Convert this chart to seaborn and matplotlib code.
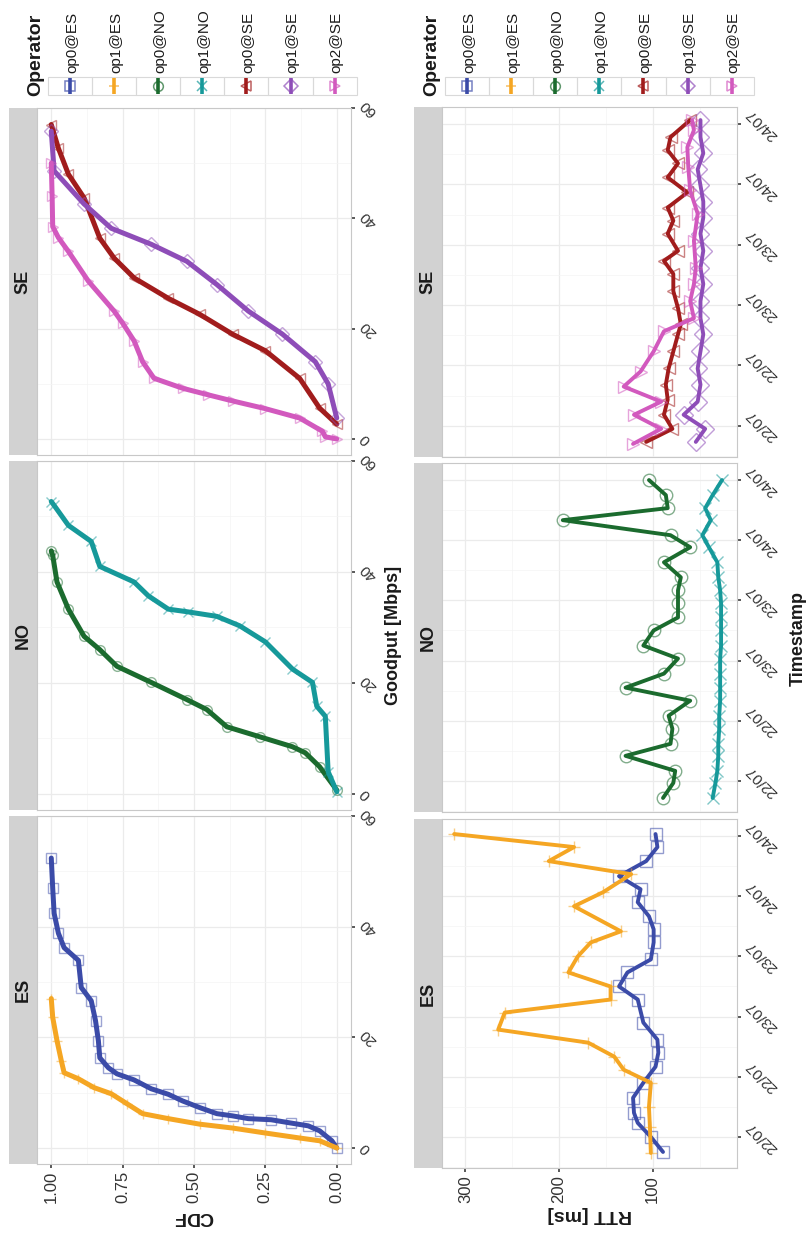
import numpy as np
import pandas as pd
import matplotlib
matplotlib.use("Agg")
import matplotlib.pyplot as plt
import matplotlib.dates as mdates
from matplotlib.patches import Rectangle
import seaborn as sns

# ---------------- data ----------------
regions = ["ES", "NO", "SE"]
operators = ["op0@ES", "op1@ES", "op0@NO", "op1@NO", "op0@SE", "op1@SE", "op2@SE"]
op_colors = ["#3B4BA8", "#F5A623", "#1B6B2E", "#16999A", "#A11C1C", "#8E4DB8", "#D259BE"]
# markers as seen in the (rotated) picture
op_markers = ["s", "+", "o", "x", "<", "D", ">"]

# CDF of goodput: (cdf level, goodput in Mbps)
cdf_op0_es = [0.00, 0.017, 0.06, 0.10, 0.16, 0.23, 0.31, 0.365, 0.42, 0.48, 0.54, 0.59, 0.65, 0.71,
              0.77, 0.80, 0.83, 0.835, 0.845, 0.86, 0.895, 0.905, 0.955, 0.975, 0.99, 0.995, 1.00]
gp_op0_es = [0.0, 1.3, 3.1, 4.0, 4.5, 5.1, 5.3, 5.8, 6.2, 7.3, 8.5, 9.7, 10.7, 12.3,
             13.4, 14.5, 16.3, 19.4, 23.0, 26.6, 29.0, 33.9, 36.2, 38.8, 42.4, 47.0, 52.4]
cdf_op1_es = [0.00, 0.06, 0.13, 0.25, 0.365, 0.48, 0.59, 0.68, 0.735, 0.79, 0.85, 0.905, 0.955,
              0.965, 0.98, 0.995, 1.00]
gp_op1_es = [0.0, 1.3, 1.8, 2.7, 3.6, 4.3, 5.3, 6.2, 8.0, 9.8, 10.9, 12.5, 13.6,
             15.8, 19.4, 23.6, 27.0]
cdf_op0_no = [0.00, 0.06, 0.11, 0.155, 0.27, 0.385, 0.455, 0.525, 0.65, 0.77, 0.83, 0.885, 0.94,
              0.98, 0.995, 1.00]
gp_op0_no = [0.7, 4.9, 7.4, 8.5, 10.3, 12.1, 15.2, 17.0, 20.1, 23.0, 26.0, 28.4, 33.3,
             38.2, 43.0, 43.8]
cdf_op1_no = [0.00, 0.03, 0.04, 0.07, 0.085, 0.155, 0.25, 0.34, 0.42, 0.52, 0.59, 0.66, 0.71,
              0.83, 0.86, 0.94, 0.99, 1.00]
gp_op1_no = [0.4, 4.0, 14.0, 15.8, 20.1, 22.5, 27.4, 30.3, 32.0, 32.8, 33.3, 35.7, 38.2,
             41.0, 45.5, 48.4, 52.0, 52.7]
cdf_op0_se = [0.00, 0.06, 0.13, 0.25, 0.365, 0.48, 0.59, 0.71, 0.78, 0.83, 0.885, 0.94, 0.975, 1.00]
gp_op0_se = [2.7, 5.6, 11.0, 16.0, 19.0, 22.6, 25.5, 29.2, 32.8, 36.4, 43.7, 48.0, 52.7, 57.0]
cdf_op1_se = [0.00, 0.03, 0.075, 0.19, 0.31, 0.42, 0.525, 0.65, 0.79, 0.885, 0.99, 1.00]
gp_op1_se = [3.8, 10.0, 14.0, 19.0, 23.2, 28.0, 32.2, 35.3, 38.2, 42.6, 48.6, 55.8]
cdf_op2_se = [0.00, 0.04, 0.05, 0.13, 0.25, 0.365, 0.45, 0.54, 0.64, 0.68, 0.71, 0.75, 0.78,
              0.87, 0.94, 0.975, 0.995, 0.997, 1.00]
gp_op2_se = [0.0, 0.4, 1.4, 3.8, 5.5, 6.9, 8.0, 9.2, 11.0, 14.0, 17.8, 21.0, 23.2,
             28.6, 34.0, 36.5, 38.5, 44.0, 50.0]

# RTT over time: hours after 22/07 00:00, RTT in ms
hours_op0_es = [-3.0, 0.0, 2.8, 4.8, 7.8, 10.8, 14.0, 16.8, 19.4, 22.8, 27.4, 30.0, 32.8, 35.4,
                38.8, 41.4, 44.0, 46.8, 49.4, 52.0, 55.0, 57.8, 60.4]
rtt_op0_es = [89, 102, 116, 120, 121, 110, 97, 94, 95, 110, 116, 136, 127, 102,
              99, 99, 104, 116, 113, 136, 107, 95, 97]
hours_op1_es = [-3.2, 2.0, 6.0, 10.8, 13.4, 16.0, 18.8, 21.4, 24.8, 27.4, 30.0, 32.8, 36.0, 38.8,
                41.0, 46.0, 48.8, 52.4, 55.0, 57.8, 60.4]
rtt_op1_es = [102, 103, 104, 102, 131, 141, 169, 265, 258, 145, 145, 190, 180, 166,
              134, 184, 153, 123, 211, 184, 312]
hours_op0_no = [-3.4, -0.4, 2.0, 5.0, 7.4, 10.4, 13.0, 16.0, 18.6, 21.4, 24.4, 27.0, 30.0, 32.6,
                35.4, 38.0, 40.6, 43.6, 46.6, 49.0, 52.0, 54.4, 57.0, 60.0]
rtt_op0_no = [89, 78, 76, 129, 81, 79, 83, 60, 129, 88, 73, 110, 99, 73,
              73, 73, 70, 88, 60, 81, 196, 84, 86, 104]
hours_op1_no = [-3.4, -0.4, 2.0, 5.0, 7.4, 10.4, 13.0, 16.0, 18.6, 21.4, 24.4, 27.0, 30.0, 32.6,
                35.4, 38.0, 40.6, 43.6, 46.6, 49.0, 52.0, 54.4, 57.0, 60.0]
rtt_op1_no = [36, 33, 31, 30, 30, 29, 29, 28, 28, 28, 28, 27, 27, 27,
              27, 28, 30, 31, 40, 47, 38, 44, 36, 26]
hours_op0_se = [-3.2, -0.6, 2.2, 5.2, 8.2, 11.4, 14.8, 18.2, 20.2, 23.4, 26.8, 30.2, 32.8, 34.8,
                38.2, 40.8, 43.4, 46.4, 49.4, 52.2, 54.8, 57.4, 60.8]
rtt_op0_se = [107, 79, 88, 84, 86, 83, 78, 73, 70, 73, 78, 78, 88, 73,
              84, 78, 84, 63, 84, 73, 84, 81, 60]
hours_op1_se = [-3.2, -0.6, 2.2, 4.8, 8.2, 11.4, 14.8, 18.2, 21.4, 24.8, 28.2, 31.4, 34.8, 38.2,
                41.4, 44.6, 47.8, 51.0, 54.2, 57.4, 60.8]
rtt_op1_se = [54, 44, 67, 52, 49, 52, 49, 46, 49, 49, 46, 49, 46, 49,
              46, 46, 49, 52, 46, 49, 49]
hours_op2_se = [-3.6, -0.6, 2.2, 4.8, 7.8, 10.8, 14.8, 18.8, 21.4, 24.8, 28.2, 31.4, 36.8, 42.2,
                46.8, 51.4, 55.4, 58.8, 60.8]
rtt_op2_se = [121, 91, 120, 91, 131, 113, 99, 88, 56, 60, 56, 54, 56, 52,
              60, 62, 63, 56, 58]

cdf_levels = [cdf_op0_es, cdf_op1_es, cdf_op0_no, cdf_op1_no, cdf_op0_se, cdf_op1_se, cdf_op2_se]
goodputs = [gp_op0_es, gp_op1_es, gp_op0_no, gp_op1_no, gp_op0_se, gp_op1_se, gp_op2_se]
rtt_hours = [hours_op0_es, hours_op1_es, hours_op0_no, hours_op1_no, hours_op0_se, hours_op1_se, hours_op2_se]
rtt_values = [rtt_op0_es, rtt_op1_es, rtt_op0_no, rtt_op1_no, rtt_op0_se, rtt_op1_se, rtt_op2_se]

cdf_ticks = [0.0, 0.25, 0.5, 0.75, 1.0]
cdf_tick_labels = ["0.00", "0.25", "0.50", "0.75", "1.00"]
goodput_ticks = [0, 20, 40, 60]
rtt_ticks = [100, 200, 300]

T0 = pd.Timestamp("2023-07-22 00:00")

# ---------------- layout helpers (pixel based) ----------------
W, H = 811, 1233


def px_axes(fig, x0, y0, x1, y1):
    return fig.add_axes([x0 / W, 1 - y1 / H, (x1 - x0) / W, (y1 - y0) / H])


def px_text(fig, x, y, s, **kw):
    fig.text(x / W, 1 - y / H, s, **kw)


def style_panel(ax):
    ax.set_facecolor("white")
    for sp in ax.spines.values():
        sp.set_color("#C8C8C8")
        sp.set_linewidth(0.8)
    ax.grid(True, which="major", color="#EBEBEB", lw=0.9)
    ax.grid(True, which="minor", color="#F4F4F4", lw=0.5)
    ax.set_axisbelow(True)
    ax.set_xlabel("")
    ax.set_ylabel("")


def add_strip(fig, x0, y0, x1, y1, label):
    s = px_axes(fig, x0, y0, x1, y1)
    s.set_facecolor("#D2D2D2")
    s.set_xticks([])
    s.set_yticks([])
    for sp in s.spines.values():
        sp.set_visible(False)
    s.text(0.5, 0.5, label, rotation=90, ha="center", va="center",
           fontsize=13, fontweight="bold", color="#1A1A1A", transform=s.transAxes)


def with_alpha(c, a):
    r, g, b = matplotlib.colors.to_rgb(c)
    return (r, g, b, a)


def draw_legend(fig, x_left, title_x):
    lg = px_axes(fig, x_left - 50, 0, x_left + 360, 100)
    lg.set_xlim(x_left - 50, x_left + 360)
    lg.set_ylim(100, 0)
    lg.axis("off")
    lg.text(title_x, 96, "Operator", rotation=90, ha="center", va="bottom",
            fontsize=14, fontweight="bold", color="#1A1A1A")
    kw = 44.1
    for i, (op, col, mk) in enumerate(zip(operators, op_colors, op_markers)):
        x0 = x_left + i * kw
        cx = x0 + kw / 2
        lg.add_patch(Rectangle((x0, 77), kw, 18, fill=False, ec="#D9D9D9", lw=0.8))
        lg.plot([cx, cx], [78, 94], color=col, lw=2.6, solid_capstyle="butt")
        lg.plot([cx], [86], marker=mk, ms=7, mfc="none", mec=with_alpha(col, 0.7), mew=1.1, color=col)
        lg.text(cx + 2, 73, op, rotation=90, ha="center", va="bottom", fontsize=11, color="#1A1A1A")


# ---------------- figure ----------------
sns.set_theme(style="white")
plt.rcParams["font.family"] = ["Liberation Sans", "DejaVu Sans"]

fig = plt.figure(figsize=(W / 100, H / 100), dpi=100)
fig.patch.set_facecolor("white")

cdf_df = pd.concat([
    pd.DataFrame({"Operator": op, "Region": op.split("@")[1], "cdf": c, "goodput": g})
    for op, c, g in zip(operators, cdf_levels, goodputs)
], ignore_index=True)

rtt_df = pd.concat([
    pd.DataFrame({"Operator": op, "Region": op.split("@")[1],
                  "time": T0 + pd.to_timedelta(h, unit="h"), "rtt": r})
    for op, h, r in zip(operators, rtt_hours, rtt_values)
], ignore_index=True)

# panel rows (top, bottom) in pixels, SE on top because the page is rotated
cdf_rows = {"SE": (108, 455), "NO": (461, 810), "ES": (816, 1164)}
rtt_rows = {"SE": (107, 457), "NO": (463, 812), "ES": (819, 1168)}

# ---- CDF column ----
for reg in regions:
    y0, y1 = cdf_rows[reg]
    add_strip(fig, 9, y0, 37, y1, reg)
    ax = px_axes(fig, 37, y0, 351, y1)
    sub = cdf_df[cdf_df["Region"] == reg]
    for op, col, mk in zip(operators, op_colors, op_markers):
        d = sub[sub["Operator"] == op]
        if d.empty:
            continue
        sns.lineplot(data=d, x="cdf", y="goodput", sort=False, estimator=None, ax=ax,
                     color=col, lw=3.6, marker=mk, markersize=7, mfc="none",
                     mec=with_alpha(col, 0.5), mew=1.0, legend=False)
    style_panel(ax)
    ax.set_xlim(1.05, -0.05)
    ax.set_ylim(-2.9, 60.0)
    ax.set_xticks(cdf_ticks)
    ax.set_xticks([0.125, 0.375, 0.625, 0.875], minor=True)
    ax.set_yticks(goodput_ticks)
    ax.set_yticks([10, 30, 50], minor=True)
    ax.yaxis.tick_right()
    ax.tick_params(axis="y", which="major", right=True, left=False, labelright=True, labelleft=False,
                   labelrotation=135, labelsize=11, pad=2, length=3, color="#444444", labelcolor="#333333")
    ax.tick_params(which="minor", length=0)
    if reg == "ES":
        ax.set_xticklabels(cdf_tick_labels)
        ax.tick_params(axis="x", which="major", bottom=True, labelbottom=True, labelrotation=90,
                       labelsize=12, pad=2, length=3, color="#444444", labelcolor="#333333")
    else:
        ax.tick_params(axis="x", which="major", bottom=False, labelbottom=False)
    for lbl in ax.get_yticklabels():
        lbl.set_va("center")

# ---- RTT column ----
for reg in regions:
    y0, y1 = rtt_rows[reg]
    add_strip(fig, 414, y0, 442, y1, reg)
    ax = px_axes(fig, 442, y0, 737, y1)
    sub = rtt_df[rtt_df["Region"] == reg]
    for op, col, mk in zip(operators, op_colors, op_markers):
        d = sub[sub["Operator"] == op]
        if d.empty:
            continue
        sns.lineplot(data=d, x="rtt", y="time", sort=False, estimator=None, orient="y", ax=ax,
                     color=col, lw=2.8, marker=mk, markersize=9, mfc="none",
                     mec=with_alpha(col, 0.55), mew=1.0, legend=False)
    style_panel(ax)
    ax.set_xlim(325, 10)
    ax.set_ylim(T0 - pd.Timedelta(hours=6.2), T0 + pd.Timedelta(hours=63.4))
    ax.set_xticks(rtt_ticks)
    ax.set_xticks([50, 150, 250], minor=True)
    ax.yaxis.set_major_locator(mdates.HourLocator(byhour=[0, 12]))
    ax.yaxis.set_minor_locator(mdates.HourLocator(byhour=[6, 18]))
    ax.yaxis.set_major_formatter(mdates.DateFormatter("%d/%m"))
    ax.yaxis.tick_right()
    ax.tick_params(axis="y", which="major", right=True, left=False, labelright=True, labelleft=False,
                   labelrotation=135, labelsize=11, pad=2, length=3, color="#444444", labelcolor="#333333")
    ax.tick_params(which="minor", length=0)
    if reg == "ES":
        ax.tick_params(axis="x", which="major", bottom=True, labelbottom=True, labelrotation=90,
                       labelsize=12, pad=2, length=3, color="#444444", labelcolor="#333333")
    else:
        ax.tick_params(axis="x", which="major", bottom=False, labelbottom=False)
    for lbl in ax.get_yticklabels():
        lbl.set_va("center")

# ---- axis titles ----
px_text(fig, 393, 635, "Goodput [Mbps]", rotation=90, ha="center", va="center",
        fontsize=13, fontweight="bold", color="#1A1A1A")
px_text(fig, 798, 638, "Timestamp", rotation=90, ha="center", va="center",
        fontsize=13, fontweight="bold", color="#1A1A1A")
px_text(fig, 193, 1217, "CDF", rotation=180, ha="center", va="center",
        fontsize=14, fontweight="bold", color="#1A1A1A")
px_text(fig, 590, 1214, "RTT [ms]", rotation=180, ha="center", va="center",
        fontsize=14, fontweight="bold", color="#1A1A1A")

# ---- legends (one per plot) ----
draw_legend(fig, 48, 36)
draw_legend(fig, 445, 432)

fig.savefig("out.png", dpi=100, facecolor="white")
